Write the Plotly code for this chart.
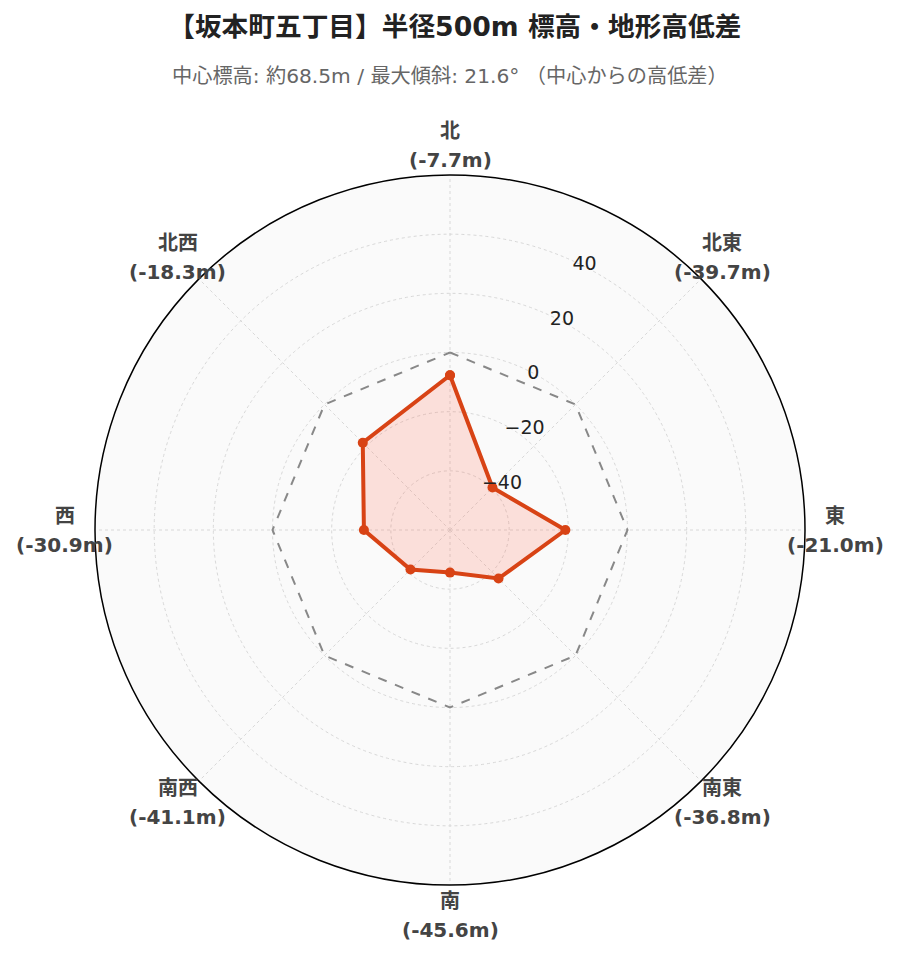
import math
import plotly.graph_objects as go

directions = ["北", "北東", "東", "南東", "南", "南西", "西", "北西"]
diffs = [-7.7, -39.7, -21.0, -36.8, -45.6, -41.1, -30.9, -18.3]
zero_ref = [0, 0, 0, 0, 0, 0, 0, 0]
radial_ticks = [-40, -20, 0, 20, 40]
r_min, r_max = -60, 60
radial_angle = 67.5

value_texts = [f"<b>({v:.1f}m)</b>" for v in diffs]
name_texts = [f"<b>{d}</b>" for d in directions]
theta_closed = directions + [directions[0]]

# figure geometry
W, H = 899, 962
ML, MR, MT, MB = 87, 102, 167, 85
label_radius = 0.5 * 385 / 355  # in paper units (plot radius = 0.5)

fig = go.Figure()
fig.add_trace(go.Scatterpolar(
    r=zero_ref + [zero_ref[0]], theta=theta_closed, mode="lines",
    line=dict(color="#888888", width=2, dash="dash"),
    hoverinfo="skip", showlegend=False,
))
fig.add_trace(go.Scatterpolar(
    r=diffs + [diffs[0]], theta=theta_closed, mode="lines+markers",
    line=dict(color="#D84315", width=4),
    marker=dict(color="#D84315", size=10),
    fill="toself", fillcolor="rgba(255,100,70,0.18)",
    showlegend=False,
))

annotations = []
for i in range(len(directions)):
    ang = math.radians(90 - 45 * i)
    x = 0.5 + label_radius * math.cos(ang)
    y = 0.5 + label_radius * math.sin(ang)
    for txt, dy in ((name_texts[i], 14.5), (value_texts[i], -14.5)):
        annotations.append(dict(
            text=txt, x=x, y=y, yshift=dy,
            xref="paper", yref="paper", xanchor="center", yanchor="middle",
            showarrow=False, font=dict(size=20, color="#444"),
        ))
annotations.append(dict(
    text="中心標高: 約68.5m / 最大傾斜: 21.6° （中心からの高低差）",
    x=0.5, y=(H - MB - 68) / (H - MT - MB), xref="paper", yref="paper",
    xanchor="center", yanchor="middle", showarrow=False,
    font=dict(size=20.2, color="#666"),
))

fig.update_layout(
    width=W, height=H,
    paper_bgcolor="white",
    margin=dict(l=ML, r=MR, t=MT, b=MB),
    font=dict(family="DejaVu Sans, Noto Sans CJK JP", color="#444"),
    title=dict(
        text="<b>【坂本町五丁目】半径500m 標高・地形高低差</b>",
        x=0.497, xanchor="center", y=1 - 19 / H, yanchor="middle",
        font=dict(size=26.7, color="#222"),
    ),
    annotations=annotations,
    polar=dict(
        bgcolor="#fafafa",
        angularaxis=dict(
            rotation=90, direction="clockwise",
            showline=True, linecolor="black", linewidth=1.5,
            gridcolor="#d8d8d8", griddash="dot", gridwidth=1,
            showticklabels=False, ticks="",
        ),
        radialaxis=dict(
            range=[r_min, r_max], tickvals=radial_ticks, angle=radial_angle,
            tickangle=radial_angle, showline=False, ticks="",
            gridcolor="#d8d8d8", griddash="dot", gridwidth=1,
            tickfont=dict(size=19, color="#222"),
        ),
    ),
)

fig.write_html("out.html")
